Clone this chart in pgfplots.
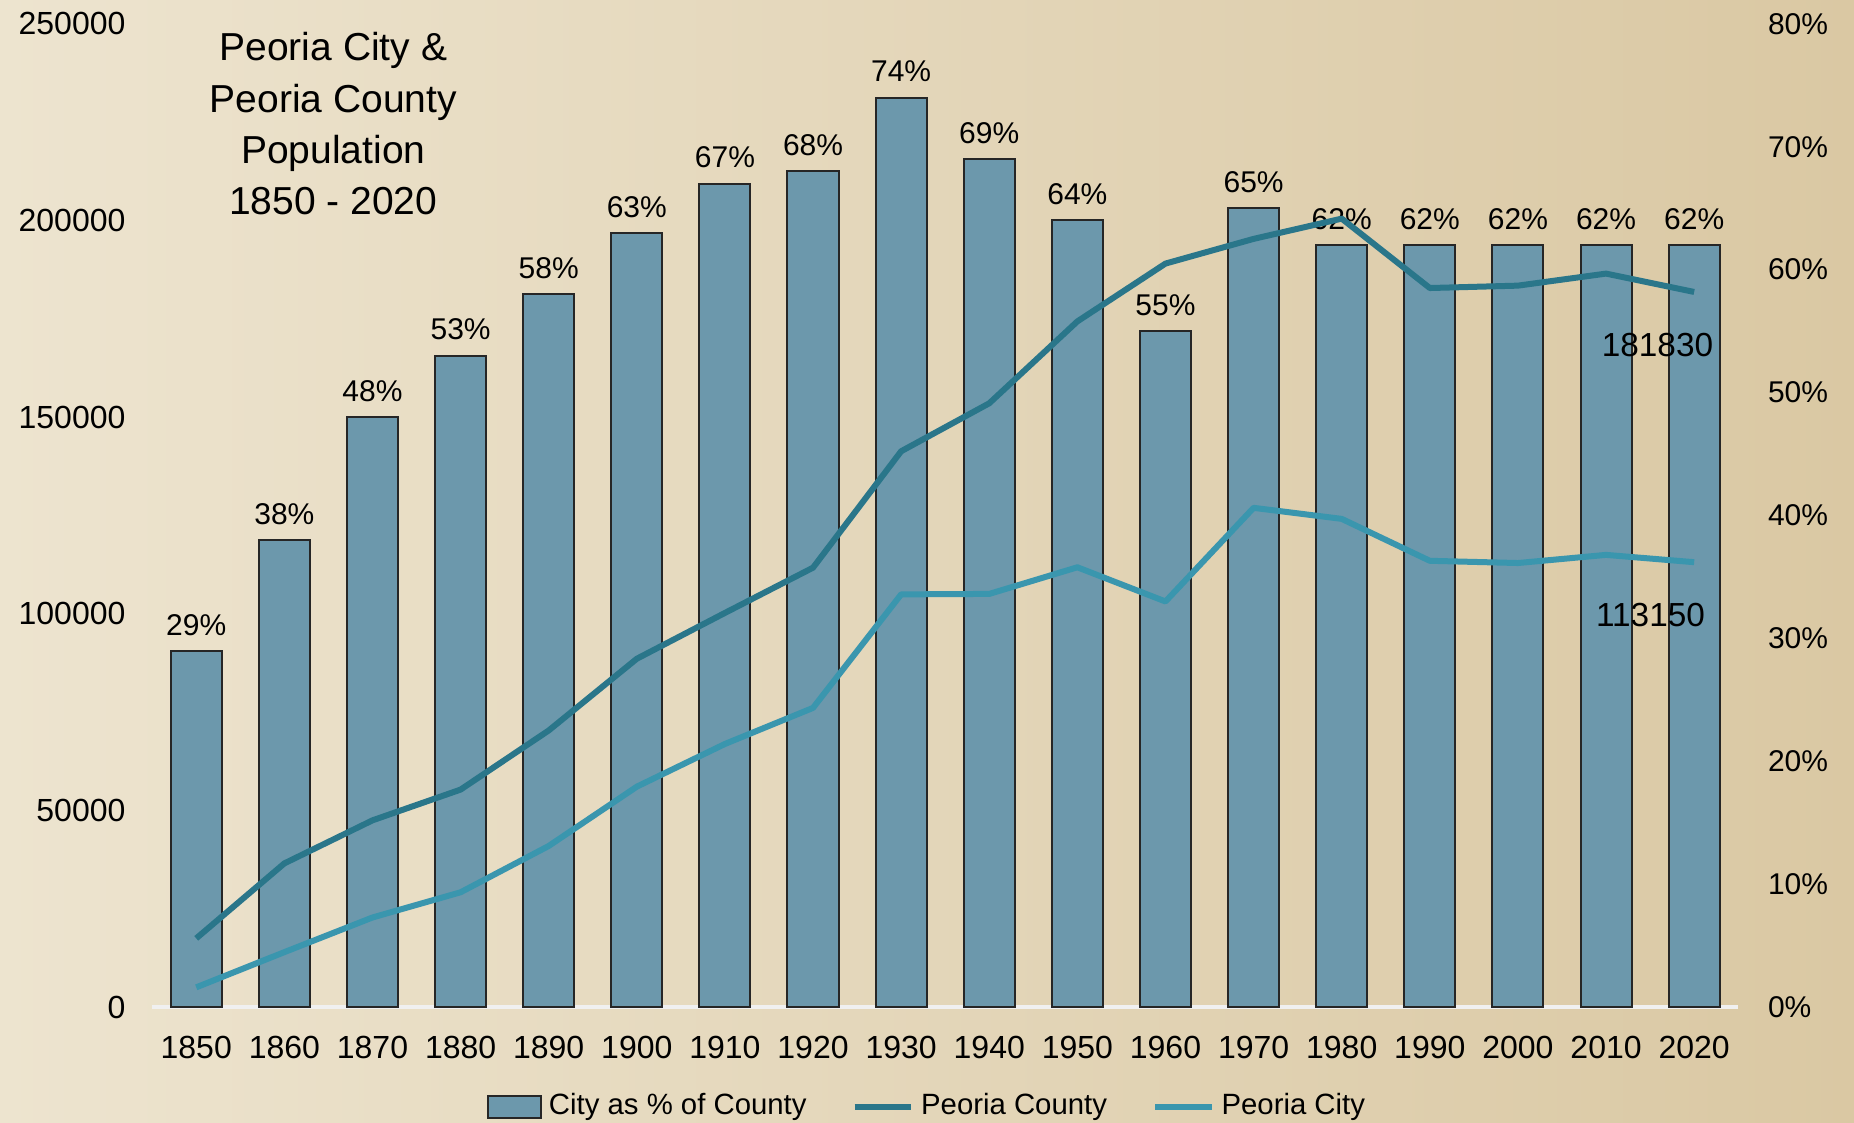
\documentclass[border=0pt]{standalone}
\usepackage{fontspec}
\setmainfont{Liberation Sans}
\usepackage{pgfplots}
\pgfplotsset{compat=1.18}
\definecolor{bgl}{RGB}{237,228,207}
\definecolor{bgr}{RGB}{218,200,163}
\definecolor{barc}{RGB}{108,152,172}
\definecolor{county}{RGB}{42,118,138}
\definecolor{city}{RGB}{58,150,174}

\pgfplotsset{frame/.style={
  at={(45.66pt,34.68pt)}, anchor=south west, scale only axis,
  width=475.8pt, height=295.1pt,
  xmin=-0.5, xmax=17.5,
  major tick length=0pt,
  /pgf/number format/assume math mode=true,
  clip=false
}}

\begin{document}
\begin{tikzpicture}
  \shade[left color=bgl, right color=bgr] (0,0) rectangle (556.2pt,336.9pt);

  % bars: city as share of county, right axis
  \begin{axis}[frame,
    ymin=0, ymax=80,
    axis x line*=bottom, axis y line*=right,
    x axis line style={draw=white!88!gray, line width=1.2pt},
    y axis line style={draw=none},
    xtick={0,...,17},
    xticklabels={1850,1860,1870,1880,1890,1900,1910,1920,1930,1940,1950,1960,1970,1980,1990,2000,2010,2020},
    xticklabel style={font=\fontsize{9.6}{11}\selectfont, yshift=-5pt},
    ytick={0,10,...,80},
    yticklabel={\pgfmathprintnumber{\tick}\%},
    yticklabel style={font=\fontsize{9}{11}\selectfont, xshift=5.4pt}]
    \addplot[ybar, bar width=0.58, fill=barc, draw=black!85, line width=0.6pt,
      nodes near coords={\pgfmathprintnumber{\pgfplotspointmeta}\%},
      nodes near coords style={font=\fontsize{9}{11}\selectfont, text=black, yshift=1pt}]
      coordinates {(0,29)(1,38)(2,48)(3,53)(4,58)(5,63)(6,67)(7,68)(8,74)
        (9,69)(10,64)(11,55)(12,65)(13,62)(14,62)(15,62)(16,62)(17,62)};
  \end{axis}

  % populations, left axis
  \begin{axis}[frame,
    ymin=0, ymax=250000,
    axis x line=none, axis y line*=left,
    y axis line style={draw=none},
    ytick={0,50000,...,250000}, scaled y ticks=false,
    yticklabel style={font=\fontsize{9.6}{11}\selectfont, xshift=-4.5pt,
      /pgf/number format/fixed, /pgf/number format/1000 sep={}},
    legend columns=3,
    legend style={draw=none, fill=none, at={(0.49,-0.101)}, anchor=center,
      font=\fontsize{8.8}{10}\selectfont,
      /tikz/every even column/.append style={column sep=11.5pt}}]
    \addlegendimage{legend image code/.code={\draw[fill=barc, draw=black!85, line width=0.6pt] (0pt,-3.3pt) rectangle (16pt,3.3pt);}}
    \addlegendentry{City as \% of County}
    \addplot[county, line width=1.8pt, line join=round]
      coordinates {(0,17547)(1,36601)(2,47540)(3,55355)(4,70378)(5,88608)
        (6,100255)(7,111758)(8,141344)(9,153536)(10,174347)(11,189044)
        (12,195318)(13,200466)(14,182827)(15,183433)(16,186494)(17,181830)};
    \addlegendentry{Peoria County}
    \addplot[city, line width=1.8pt, line join=round]
      coordinates {(0,5095)(1,14045)(2,22849)(3,29259)(4,41024)(5,56100)
        (6,66950)(7,76121)(8,104969)(9,105087)(10,111856)(11,103162)
        (12,126963)(13,124160)(14,113504)(15,112936)(16,115007)(17,113150)};
    \addlegendentry{Peoria City}
    \node[font=\fontsize{10}{12}\selectfont] at ([xshift=-11pt,yshift=-16pt]axis cs:17,181830) {181830};
    \node[font=\fontsize{10}{12}\selectfont] at ([xshift=-13.1pt,yshift=-15.8pt]axis cs:17,113150) {113150};
  \end{axis}

  \node[align=center, font=\fontsize{11.7}{15.4}\selectfont] at (100pt,299.7pt)
    {Peoria City \&\\Peoria County\\Population\\1850 - 2020};

  \pgfresetboundingbox
  \path (0,0) rectangle (556.2pt,336.9pt);
\end{tikzpicture}
\end{document}
